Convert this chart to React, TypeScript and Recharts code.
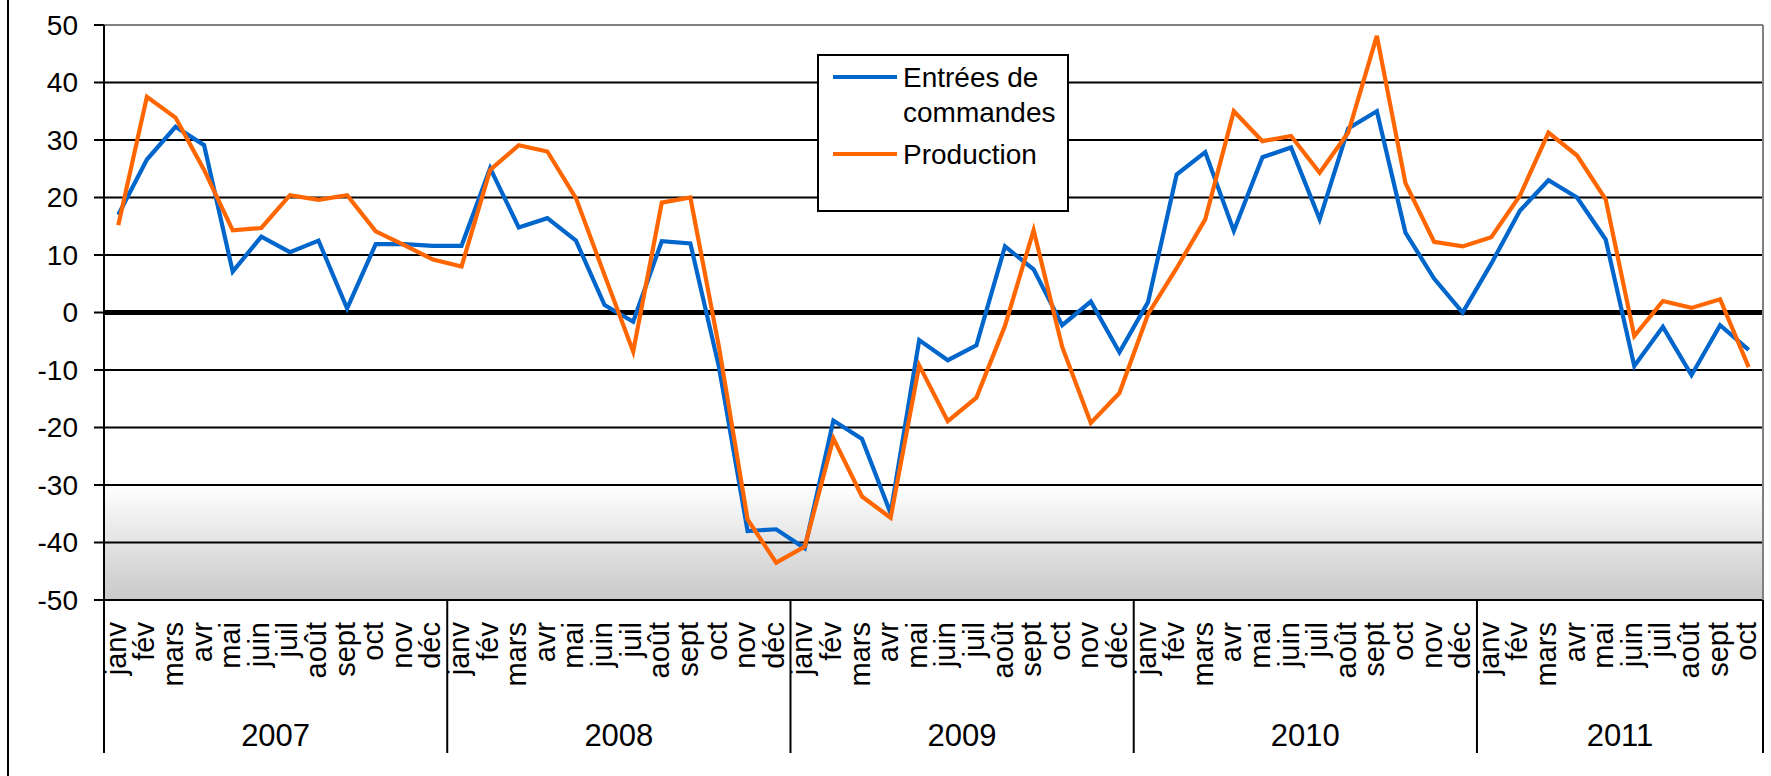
import React from 'react';
import {
  ComposedChart,
  Line,
  XAxis,
  YAxis,
  CartesianGrid,
  ReferenceLine,
  Legend
} from 'recharts';

const MONTHS = ['janv', 'fév', 'mars', 'avr', 'mai', 'juin', 'juil', 'août', 'sept', 'oct', 'nov', 'déc'];
const YEARS = [2007, 2008, 2009, 2010, 2011];

const ENTREES = [
  17.0, 26.6, 32.3, 29.1, 7.1, 13.2, 10.5, 12.5, 0.7, 11.9, 11.9, 11.6,
  11.6, 25.1, 14.8, 16.4, 12.5, 1.3, -1.6, 12.4, 12.0, -9.5, -38.0, -37.7,
  -41.0, -18.8, -22.0, -34.9, -4.8, -8.3, -5.7, 11.5, 7.5, -2.2, 1.9, -6.9,
  1.8, 24.0, 27.9, 14.2, 27.0, 28.7, 16.2, 32.0, 35.0, 13.9, 5.9, 0.0,
  8.5, 17.7, 23.0, 20.0, 12.7, -9.3, -2.5, -10.9, -2.2, -6.5
];

const PRODUCTION = [
  15.2, 37.5, 33.9, 24.8, 14.3, 14.7, 20.4, 19.6, 20.4, 14.1, 11.7, 9.2,
  8.0, 24.8, 29.1, 28.0, 19.9, 6.5, -6.8, 19.1, 20.0, -6.0, -36.0, -43.5,
  -40.7, -21.9, -32.0, -35.7, -9.2, -18.9, -14.8, -2.3, 14.3, -6.0, -19.2, -14.0,
  -0.3, 7.7, 16.2, 35.0, 29.8, 30.7, 24.3, 31.3, 48.1, 22.5, 12.3, 11.5,
  13.1, 20.3, 31.3, 27.3, 19.7, -4.1, 2.0, 0.8, 2.3, -9.5
];

const Y_TICKS = [-50, -40, -30, -20, -10, 0, 10, 20, 30, 40, 50];

const FONT = '"Liberation Sans", Arial, sans-serif';

const data = ENTREES.map((v, i) => ({
  key: `${YEARS[Math.floor(i / 12)]}-${MONTHS[i % 12]}`,
  month: MONTHS[i % 12],
  year: YEARS[Math.floor(i / 12)],
  entrees: v,
  production: PRODUCTION[i]
}));

const monthsOfYear = (year: number) => data.filter((d) => d.year === year).length;

// month label rotated, plus year separators and year label under each janv
const MonthTick = (props: any) => {
  const { x, y, payload } = props;
  const idx = payload.index;
  const half = payload.offset || 14.3;
  const row = data[idx];
  const fs = 29;
  if (!row) return null;
  const parts: React.ReactNode[] = [];
  parts.push(
    <text
      key="m"
      x={0}
      y={0}
      transform={`translate(${x + fs * 0.26},${y + 22}) rotate(-90)`}
      textAnchor="end"
      fontSize={fs}
      fontFamily={FONT}
      fill="#000"
    >
      {row.month}
    </text>
  );
  if (row.month === 'janv') {
    const start = x - half;
    const count = monthsOfYear(row.year);
    const end = start + count * half * 2;
    parts.push(<line key="s" x1={start} x2={start} y1={y} y2={y + 153} stroke="#000" strokeWidth={2} />);
    parts.push(
      <text
        key="y"
        x={(start + end) / 2}
        y={y + 146}
        textAnchor="middle"
        fontSize={31}
        fontFamily={FONT}
        fill="#000"
      >
        {row.year}
      </text>
    );
    if (row.year === YEARS[YEARS.length - 1]) {
      parts.push(<line key="e" x1={end} x2={end} y1={y} y2={y + 153} stroke="#000" strokeWidth={2} />);
    }
  }
  return <g>{parts}</g>;
};

const LegendBox = (props: any) => {
  const items = props.payload || [];
  return (
    <div
      style={{
        position: 'relative',
        width: 252,
        height: 158,
        boxSizing: 'border-box',
        border: '2px solid #000',
        background: '#fff',
        fontFamily: FONT,
        fontSize: 28,
        lineHeight: '35px',
        color: '#000'
      }}
    >
      {items.map((it: any, i: number) => {
        const top = i === 0 ? 4 : 81;
        const lineY = i === 0 ? 21 : 98;
        return (
          <React.Fragment key={it.value}>
            <svg width={64} height={6} style={{ position: 'absolute', left: 14, top: lineY - 3 }}>
              <line x1={0} x2={64} y1={3} y2={3} stroke={it.color} strokeWidth={4} />
            </svg>
            <div style={{ position: 'absolute', left: 84, top, width: 164 }}>{it.value}</div>
          </React.Fragment>
        );
      })}
    </div>
  );
};

export default function App() {
  return (
    <div style={{ position: 'absolute', left: 0, top: 0, width: 1771, height: 776, background: '#fff' }}>
      <div style={{ position: 'absolute', left: 7, top: 0, height: 776, borderLeft: '2px solid #000' }} />
      <ComposedChart
        width={1771}
        height={776}
        data={data}
        margin={{ top: 25, right: 0, left: 0, bottom: 0 }}
      >
        <defs>
          <linearGradient id="bandTop" x1="0" y1="0" x2="0" y2="1">
            <stop offset="0%" stopColor="#ffffff" />
            <stop offset="100%" stopColor="#e3e3e3" />
          </linearGradient>
          <linearGradient id="bandBottom" x1="0" y1="0" x2="0" y2="1">
            <stop offset="0%" stopColor="#e3e3e3" />
            <stop offset="100%" stopColor="#c9c9c9" />
          </linearGradient>
        </defs>
        <CartesianGrid
          vertical={false}
          stroke="#000"
          strokeWidth={2}
          fillOpacity={1}
          horizontalFill={[
            '#ffffff', '#ffffff', '#ffffff', '#ffffff', '#ffffff',
            '#ffffff', '#ffffff', '#ffffff', 'url(#bandTop)', 'url(#bandBottom)'
          ]}
        />
        <XAxis
          dataKey="key"
          scale="band"
          height={176}
          interval={0}
          tickLine={false}
          tickSize={0}
          tickMargin={0}
          axisLine={{ stroke: '#000', strokeWidth: 2 }}
          tick={<MonthTick />}
        />
        <YAxis
          width={104}
          domain={[-50, 50]}
          ticks={Y_TICKS}
          interval={0}
          tickSize={10}
          tickMargin={16}
          axisLine={{ stroke: '#000', strokeWidth: 2 }}
          tickLine={{ stroke: '#000', strokeWidth: 2 }}
          tick={{ fill: '#000', fontSize: 28, fontFamily: FONT }}
        />
        <YAxis
          yAxisId="frame"
          orientation="right"
          width={8}
          domain={[-50, 50]}
          tick={false}
          tickLine={false}
          axisLine={{ stroke: '#808080', strokeWidth: 2 }}
        />
        <ReferenceLine y={50} stroke="#808080" strokeWidth={2} />
        <ReferenceLine y={0} stroke="#000" strokeWidth={5} />
        <Legend
          layout="vertical"
          align="center"
          verticalAlign="middle"
          wrapperStyle={{ position: 'absolute', left: 817, top: 54, width: 252, height: 158 }}
          content={<LegendBox />}
        />
        <Line
          type="linear"
          dataKey="entrees"
          name="Entrées de commandes"
          stroke="#0066CC"
          strokeWidth={4.2}
          dot={false}
          activeDot={false}
          isAnimationActive={false}
        />
        <Line
          type="linear"
          dataKey="production"
          name="Production"
          stroke="#FF6600"
          strokeWidth={4.2}
          dot={false}
          activeDot={false}
          isAnimationActive={false}
        />
      </ComposedChart>
    </div>
  );
}
